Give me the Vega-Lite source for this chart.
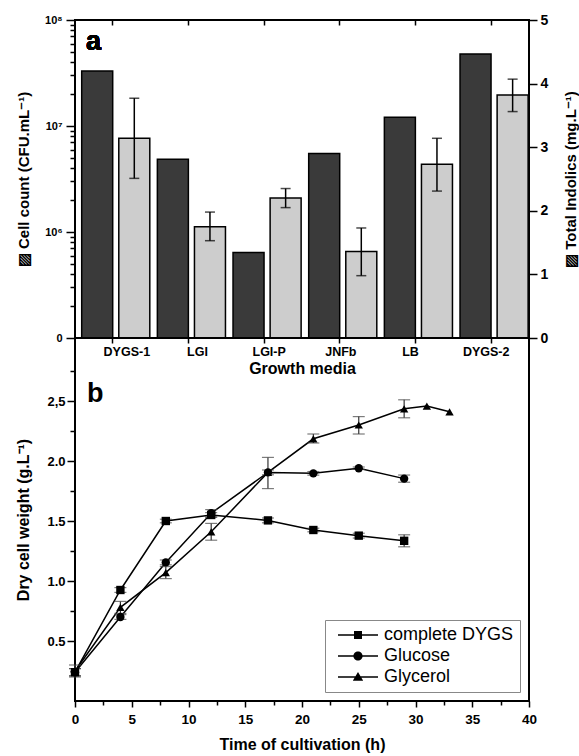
{
  "$schema": "https://vega.github.io/schema/vega-lite/v6.json",
  "autosize": {"type": "pad"},
  "padding": {"left": 14, "top": 12, "right": 0, "bottom": 0},
  "background": "white",
  "config": {
    "font": "Liberation Sans",
    "view": {"stroke": "black", "strokeWidth": 2},
    "axis": {
      "domain": false,
      "grid": false,
      "tickColor": "black",
      "tickWidth": 1.5,
      "labelFont": "Liberation Sans",
      "labelFontWeight": "bold",
      "labelColor": "black",
      "titleFont": "Liberation Sans",
      "titleFontWeight": "bold",
      "titleColor": "black"
    }
  },
  "datasets": {
    "media": [
      {"media": "DYGS-1", "series": "Cell count", "value": 33000000},
      {"media": "LGI", "series": "Cell count", "value": 4850000},
      {"media": "LGI-P", "series": "Cell count", "value": 640000},
      {"media": "JNFb", "series": "Cell count", "value": 5500000},
      {"media": "LB", "series": "Cell count", "value": 12100000},
      {"media": "DYGS-2", "series": "Cell count", "value": 47800000},
      {"media": "DYGS-1", "series": "Total Indolics", "value": 3.14, "lo": 2.51, "hi": 3.77},
      {"media": "LGI", "series": "Total Indolics", "value": 1.75, "lo": 1.53, "hi": 1.98},
      {"media": "LGI-P", "series": "Total Indolics", "value": 2.2, "lo": 2.05, "hi": 2.35},
      {"media": "JNFb", "series": "Total Indolics", "value": 1.36, "lo": 0.98, "hi": 1.73},
      {"media": "LB", "series": "Total Indolics", "value": 2.73, "lo": 2.31, "hi": 3.14},
      {"media": "DYGS-2", "series": "Total Indolics", "value": 3.82, "lo": 3.56, "hi": 4.07}
    ],
    "growth": [
      {"series": "complete DYGS", "t": 0, "w": 0.24, "lo": 0.21, "hi": 0.27},
      {"series": "complete DYGS", "t": 4, "w": 0.925, "lo": 0.905, "hi": 0.945},
      {"series": "complete DYGS", "t": 8, "w": 1.5, "lo": 1.485, "hi": 1.515},
      {"series": "complete DYGS", "t": 12, "w": 1.55, "lo": 1.53, "hi": 1.57},
      {"series": "complete DYGS", "t": 17, "w": 1.505, "lo": 1.485, "hi": 1.525},
      {"series": "complete DYGS", "t": 21, "w": 1.425, "lo": 1.41, "hi": 1.44},
      {"series": "complete DYGS", "t": 25, "w": 1.378, "lo": 1.358, "hi": 1.398},
      {"series": "complete DYGS", "t": 29, "w": 1.335, "lo": 1.285, "hi": 1.385},
      {"series": "Glucose", "t": 0, "w": 0.24, "lo": 0.21, "hi": 0.27},
      {"series": "Glucose", "t": 4, "w": 0.7, "lo": 0.68, "hi": 0.72},
      {"series": "Glucose", "t": 8, "w": 1.155, "lo": 1.135, "hi": 1.175},
      {"series": "Glucose", "t": 12, "w": 1.565, "lo": 1.535, "hi": 1.595},
      {"series": "Glucose", "t": 17, "w": 1.905, "lo": 1.885, "hi": 1.925},
      {"series": "Glucose", "t": 21, "w": 1.897, "lo": 1.882, "hi": 1.912},
      {"series": "Glucose", "t": 25, "w": 1.94, "lo": 1.93, "hi": 1.95},
      {"series": "Glucose", "t": 29, "w": 1.853, "lo": 1.823, "hi": 1.883},
      {"series": "Glycerol", "t": 0, "w": 0.25, "lo": 0.2, "hi": 0.3},
      {"series": "Glycerol", "t": 4, "w": 0.78, "lo": 0.73, "hi": 0.83},
      {"series": "Glycerol", "t": 8, "w": 1.07, "lo": 1.02, "hi": 1.12},
      {"series": "Glycerol", "t": 12, "w": 1.41, "lo": 1.34, "hi": 1.48},
      {"series": "Glycerol", "t": 17, "w": 1.905, "lo": 1.77, "hi": 2.03},
      {"series": "Glycerol", "t": 21, "w": 2.185, "lo": 2.15, "hi": 2.225},
      {"series": "Glycerol", "t": 25, "w": 2.3, "lo": 2.225, "hi": 2.37},
      {"series": "Glycerol", "t": 29, "w": 2.435, "lo": 2.36, "hi": 2.51},
      {"series": "Glycerol", "t": 31, "w": 2.458},
      {"series": "Glycerol", "t": 33, "w": 2.41}
    ]
  },
  "spacing": 0,
  "bounds": "flush",
  "resolve": {"scale": {"shape": "independent"}, "legend": {"shape": "independent"}},
  "vconcat": [
    {
      "width": 454,
      "height": 318,
      "data": {"name": "media"},
      "layer": [
        {
          "layer": [
            {
              "transform": [{"filter": "datum.series === 'Cell count'"}],
              "mark": {"type": "bar", "fill": "#3a3a3a", "stroke": "black", "strokeWidth": 1.5},
              "encoding": {
                "x": {
                  "field": "media", "type": "nominal", "sort": null,
                  "scale": {"paddingInner": 0, "paddingOuter": 0},
                  "axis": {
                    "orient": "bottom",
                    "title": "Growth media", "titleFontSize": 16, "titlePadding": 3,
                    "labelFontSize": 12.5, "labelAngle": 0, "labelPadding": 2, "tickSize": 5,
                    "labelOffset": {
                      "condition": [
                        {"test": "datum.value === 'DYGS-1'", "value": 14},
                        {"test": "datum.value === 'LGI'", "value": 9},
                        {"test": "datum.value === 'LGI-P'", "value": 5},
                        {"test": "datum.value === 'JNFb'", "value": 1}
                      ],
                      "value": -5
                    }
                  }
                },
                "xOffset": {
                  "field": "series", "type": "nominal",
                  "scale": {"domain": ["Cell count", "Total Indolics"], "paddingInner": 0.164, "paddingOuter": 0.102, "align": 0.885}
                },
                "y": {
                  "field": "value", "type": "quantitative",
                  "scale": {"type": "log", "domain": [100000, 100000000], "nice": false},
                  "axis": {
                    "orient": "left",
                    "values": [100000, 200000, 300000, 400000, 500000, 600000, 700000, 800000, 900000, 1000000, 2000000, 3000000, 4000000, 5000000, 6000000, 7000000, 8000000, 9000000, 10000000, 20000000, 30000000, 40000000, 50000000, 60000000, 70000000, 80000000, 90000000, 100000000],
                    "labelExpr": "datum.value==1e8?'10⁸':datum.value==1e7?'10⁷':datum.value==1e6?'10⁶':datum.value==1e5?'0':''",
                    "tickSize": {"condition": {"test": "datum.value==1e5||datum.value==1e6||datum.value==1e7||datum.value==1e8", "value": 9}, "value": 5},
                    "labelFontSize": 11, "labelPadding": 4,
                    "title": "▨ Cell count (CFU.mL⁻¹)", "titleFontSize": 15, "titlePadding": 13
                  }
                },
                "y2": {"datum": 100000}
              }
            },
            {
              "mark": {"type": "text", "font": "Liberation Sans", "fontSize": 27, "fontWeight": "bold", "align": "left", "baseline": "alphabetic", "dx": 11, "color": "black"},
              "encoding": {
                "text": {"value": "a"},
                "x": {"datum": "DYGS-1", "bandPosition": 0},
                "y": {"datum": 52000000}
              }
            }
          ]
        },
        {
          "transform": [{"filter": "datum.series === 'Total Indolics'"}],
          "layer": [
            {
              "mark": {"type": "bar", "fill": "#cdcdcd", "stroke": "black", "strokeWidth": 1.5},
              "encoding": {
                "x": {
                  "field": "media", "type": "nominal", "sort": null,
                  "scale": {"paddingInner": 0, "paddingOuter": 0},
                  "axis": {"orient": "top", "labels": false, "title": null, "ticks": true, "tickSize": 5, "offset": -5, "tickColor": "black", "tickWidth": 1.5}
                },
                "xOffset": {
                  "field": "series", "type": "nominal",
                  "scale": {"domain": ["Cell count", "Total Indolics"], "paddingInner": 0.164, "paddingOuter": 0.102, "align": 0.885}
                },
                "y": {
                  "field": "value", "type": "quantitative",
                  "scale": {"domain": [0, 5], "nice": false},
                  "axis": {
                    "orient": "right",
                    "values": [0, 0.5, 1, 1.5, 2, 2.5, 3, 3.5, 4, 4.5, 5],
                    "labelExpr": "datum.value % 1 === 0 ? format(datum.value, 'd') : ''",
                    "tickSize": {"condition": {"test": "datum.value % 1 === 0", "value": 8}, "value": 4},
                    "labelFontSize": 14, "labelPadding": 3,
                    "title": "▨ Total Indolics (mg.L⁻¹)", "titleFontSize": 15, "titleAngle": 270, "titlePadding": 31
                  }
                }
              }
            },
            {
              "mark": {"type": "rule", "color": "black", "strokeWidth": 1.5},
              "encoding": {
                "x": {"field": "media", "type": "nominal", "sort": null},
                "xOffset": {"field": "series", "type": "nominal"},
                "y": {"field": "lo", "type": "quantitative"},
                "y2": {"field": "hi"}
              }
            },
            {
              "mark": {"type": "tick", "orient": "horizontal", "color": "black", "size": 10, "thickness": 1.5},
              "encoding": {
                "x": {"field": "media", "type": "nominal", "sort": null},
                "xOffset": {"field": "series", "type": "nominal"},
                "y": {"field": "lo", "type": "quantitative"}
              }
            },
            {
              "mark": {"type": "tick", "orient": "horizontal", "color": "black", "size": 10, "thickness": 1.5},
              "encoding": {
                "x": {"field": "media", "type": "nominal", "sort": null},
                "xOffset": {"field": "series", "type": "nominal"},
                "y": {"field": "hi", "type": "quantitative"}
              }
            }
          ]
        }
      ],
      "resolve": {
        "scale": {"y": "independent", "x": "independent", "xOffset": "independent"},
        "axis": {"x": "independent", "y": "independent"}
      }
    },
    {
      "width": 454,
      "height": 363,
      "data": {"name": "growth"},
      "encoding": {
        "x": {
          "field": "t", "type": "quantitative",
          "scale": {"domain": [0, 40], "nice": false},
          "axis": {
            "values": [0, 2.5, 5, 7.5, 10, 12.5, 15, 17.5, 20, 22.5, 25, 27.5, 30, 32.5, 35, 37.5, 40],
            "labelExpr": "datum.value % 5 === 0 ? datum.label : ''",
            "tickSize": {"condition": {"test": "datum.value % 5 === 0", "value": 6}, "value": 4},
            "labelFontSize": 13.5, "labelPadding": 5, "labelFlush": false,
            "title": "Time of cultivation (h)", "titleFontSize": 16, "titlePadding": 11
          }
        },
        "y": {
          "field": "w", "type": "quantitative",
          "scale": {"domain": [0, 3.025], "nice": false},
          "axis": {
            "values": [0.25, 0.5, 0.75, 1, 1.25, 1.5, 1.75, 2, 2.25, 2.5, 2.75],
            "labelExpr": "datum.value == 2.5 ? '2,5' : (datum.value * 2) % 1 === 0 ? format(datum.value, '.1f') : ''",
            "tickSize": {"condition": {"test": "(datum.value * 2) % 1 === 0", "value": 8}, "value": 5},
            "labelFontSize": 13, "labelPadding": 2,
            "title": "Dry cell weight  (g.L⁻¹)", "titleFontSize": 16, "titlePadding": 15
          }
        }
      },
      "layer": [
        {
          "mark": {"type": "line", "color": "black", "strokeWidth": 1.5},
          "encoding": {"detail": {"field": "series", "type": "nominal"}}
        },
        {
          "transform": [{"filter": "isValid(datum.lo)"}],
          "mark": {"type": "rule", "color": "#333", "strokeWidth": 1.2},
          "encoding": {"y": {"field": "lo", "type": "quantitative"}, "y2": {"field": "hi"}}
        },
        {
          "transform": [{"filter": "isValid(datum.lo)"}],
          "mark": {"type": "tick", "orient": "horizontal", "color": "#444", "size": 12, "thickness": 1.2},
          "encoding": {"y": {"field": "lo", "type": "quantitative"}}
        },
        {
          "transform": [{"filter": "isValid(datum.hi)"}],
          "mark": {"type": "tick", "orient": "horizontal", "color": "#444", "size": 12, "thickness": 1.2},
          "encoding": {"y": {"field": "hi", "type": "quantitative"}}
        },
        {
          "mark": {"type": "point", "filled": true, "color": "black", "size": 70, "opacity": 1},
          "encoding": {
            "shape": {
              "field": "series", "type": "nominal",
              "scale": {"domain": ["complete DYGS", "Glucose", "Glycerol"], "range": ["square", "circle", "triangle-up"]},
              "legend": null
            }
          }
        },
        {
          "transform": [{"filter": "false"}],
          "mark": {"type": "point", "filled": true, "color": "black", "opacity": 1},
          "encoding": {
            "shape": {
              "field": "series", "type": "nominal",
              "scale": {
                "domain": ["complete DYGS", "Glucose", "Glycerol"],
                "range": [
                  "M-5,-0.19H5V0.19H-5ZM-1,-1H1V1H-1Z",
                  "M-5,-0.19H5V0.19H-5ZM-1.15,0A1.15,1.15,0,1,1,1.15,0A1.15,1.15,0,1,1,-1.15,0Z",
                  "M-5,-0.19H5V0.19H-5ZM0,-1.25L1.3,0.95H-1.3Z"
                ]
              },
              "legend": {
                "title": null, "orient": "bottom-right", "offset": 9,
                "strokeColor": "#888", "padding": 6,
                "labelFont": "Liberation Sans", "labelFontSize": 18, "labelColor": "black",
                "symbolSize": 64, "symbolFillColor": "black", "symbolOpacity": 1,
                "symbolOffset": 18, "labelOffset": 17, "rowPadding": 3
              }
            }
          }
        },
        {
          "transform": [{"filter": "datum.series === 'complete DYGS' && datum.t === 0"}],
          "mark": {"type": "text", "font": "Liberation Sans", "fontSize": 27, "fontWeight": "bold", "align": "left", "baseline": "alphabetic", "color": "black"},
          "encoding": {
            "text": {"value": "b"},
            "x": {"datum": 1.05},
            "y": {"datum": 2.49}
          }
        }
      ],
      "resolve": {"scale": {"shape": "independent"}}
    }
  ]
}
